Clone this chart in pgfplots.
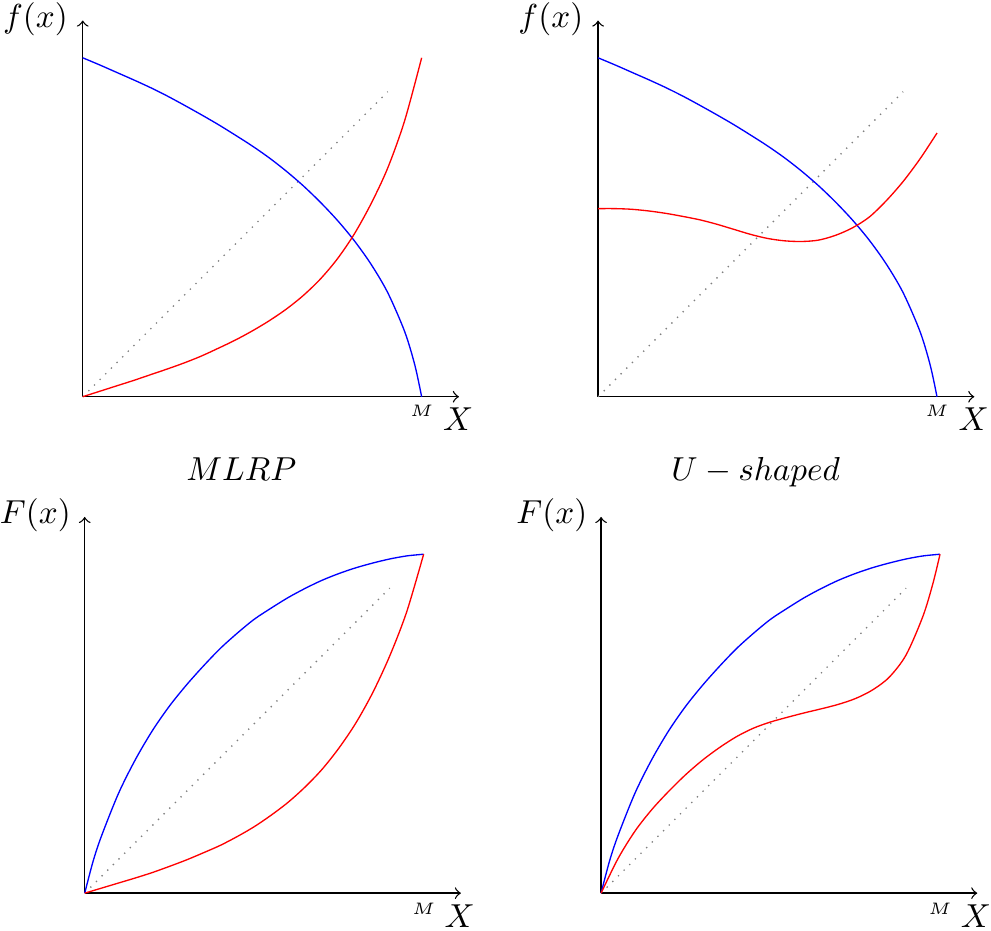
\documentclass[border=0pt]{standalone}
\usepackage{pgfplots}
\usepackage{pgfplotstable}
\pgfplotsset{compat=1.18}

% density f(x), same in both top panels
\pgfplotstableread{
x y
0    1.000
0.05 0.979
0.1  0.957
0.15 0.935
0.2  0.912
0.25 0.887
0.3  0.860
0.35 0.832
0.4  0.803
0.45 0.772
0.5  0.740
0.55 0.705
0.6  0.666
0.65 0.623
0.7  0.575
0.75 0.522
0.8  0.462
0.85 0.392
0.9  0.307
0.95 0.192
0.98 0.093
1    0.000
}\bluef
\pgfplotstableread{
x y
0    0
0.05 0.016
0.1  0.032
0.15 0.048
0.2  0.065
0.25 0.082
0.3  0.100
0.35 0.120
0.4  0.143
0.45 0.167
0.5  0.194
0.55 0.224
0.6  0.258
0.65 0.298
0.7  0.346
0.75 0.405
0.8  0.478
0.85 0.568
0.9  0.675
0.95 0.815
1    1.000
}\redmlrp
\pgfplotstableread{
x y
0    0.555
0.05 0.555
0.1  0.553
0.15 0.548
0.2  0.541
0.25 0.532
0.3  0.522
0.35 0.509
0.4  0.494
0.45 0.479
0.5  0.467
0.55 0.460
0.6  0.458
0.65 0.462
0.7  0.476
0.75 0.498
0.8  0.530
0.85 0.578
0.9  0.635
0.95 0.702
1    0.778
}\redushape
% distribution functions F(x)
\pgfplotstableread{
x y
0     0
0.025 0.095
0.05  0.170
0.1   0.295
0.15  0.395
0.2   0.480
0.25  0.552
0.3   0.614
0.35  0.670
0.4   0.722
0.45  0.767
0.5   0.808
0.55  0.841
0.6   0.872
0.65  0.899
0.7   0.923
0.75  0.943
0.8   0.960
0.85  0.974
0.9   0.986
0.95  0.995
1     1
}\blueF
\pgfplotstableread{
x y
0    0
0.05 0.015
0.1  0.030
0.15 0.045
0.2  0.061
0.25 0.079
0.3  0.098
0.35 0.119
0.4  0.141
0.45 0.167
0.5  0.196
0.55 0.230
0.6  0.268
0.65 0.313
0.7  0.365
0.75 0.428
0.8  0.502
0.85 0.592
0.9  0.700
0.95 0.830
1    1
}\redFmlrp
\pgfplotstableread{
x y
0    0
0.05 0.102
0.1  0.183
0.15 0.247
0.2  0.301
0.25 0.350
0.3  0.393
0.35 0.430
0.4  0.462
0.45 0.487
0.5  0.505
0.55 0.519
0.6  0.532
0.65 0.544
0.7  0.557
0.75 0.574
0.8  0.599
0.85 0.637
0.9  0.703
0.95 0.818
0.98 0.917
1    1
}\redFushape

\pgfplotsset{
  panel/.style={
    x=102pt, y=102pt,
    xmin=0, xmax=1.11, ymin=0, ymax=1.11,
    axis lines=left,
    axis line style={->, black},
    xtick=\empty, ytick=\empty,
    clip=false,
    anchor=origin,
  },
  diag/.style={gray, dotted},
}

\begin{document}
\begin{tikzpicture}[lbl/.style={inner sep=0pt, outer sep=0pt}]
\path (-24pt,-160.5pt) rectangle (273.3pt,119.4pt);

% top left
\begin{axis}[panel, at={(0pt,0pt)}]
  \addplot[diag] coordinates {(0,0) (0.9,0.9)};
  \addplot[blue, smooth] table {\bluef};
  \addplot[red, smooth] table {\redmlrp};
  \node[lbl, anchor=base east] at (axis cs:-0.044,1.09) {$f(x)$};
  \node[lbl, anchor=base] at (axis cs:1,-0.059) {\tiny $M$};
  \node[lbl, anchor=base] at (axis cs:1.108,-0.1) {$X$};
  \node[lbl, anchor=base] at (axis cs:0.468,-0.247) {$MLRP$};
\end{axis}

% top right
\begin{axis}[panel, at={(155.1pt,0pt)}]
  \addplot[diag] coordinates {(0,0) (0.9,0.9)};
  \addplot[blue, smooth] table {\bluef};
  \addplot[red, smooth] table {\redushape};
  \node[lbl, anchor=base east] at (axis cs:-0.044,1.09) {$f(x)$};
  \node[lbl, anchor=base] at (axis cs:1,-0.059) {\tiny $M$};
  \node[lbl, anchor=base] at (axis cs:1.108,-0.1) {$X$};
  \node[lbl, anchor=base] at (axis cs:0.465,-0.247) {$U-shaped$};
\end{axis}

% bottom left
\begin{axis}[panel, at={(0.6pt,-149.4pt)}]
  \addplot[diag] coordinates {(0,0) (0.9,0.9)};
  \addplot[blue, smooth] table {\blueF};
  \addplot[red, smooth] table {\redFmlrp};
  \node[lbl, anchor=base east] at (axis cs:-0.041,1.09) {$F(x)$};
  \node[lbl, anchor=base] at (axis cs:1,-0.062) {\tiny $M$};
  \node[lbl, anchor=base] at (axis cs:1.106,-0.1) {$X$};
\end{axis}

% bottom right
\begin{axis}[panel, at={(156pt,-149.4pt)}]
  \addplot[diag] coordinates {(0,0) (0.9,0.9)};
  \addplot[blue, smooth] table {\blueF};
  \addplot[red, smooth] table {\redFushape};
  \node[lbl, anchor=base east] at (axis cs:-0.041,1.09) {$F(x)$};
  \node[lbl, anchor=base] at (axis cs:1,-0.062) {\tiny $M$};
  \node[lbl, anchor=base] at (axis cs:1.106,-0.1) {$X$};
\end{axis}
\end{tikzpicture}
\end{document}
